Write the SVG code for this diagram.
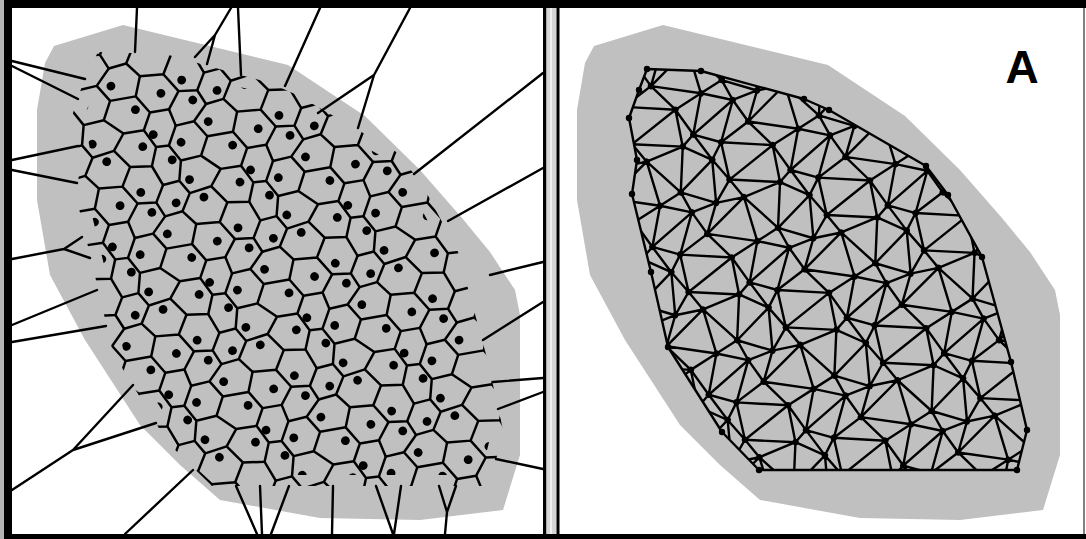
<svg xmlns="http://www.w3.org/2000/svg" width="1086" height="539" viewBox="0 0 1086 539">
<style>
.gray{fill:#c0c0c0}
.ln{fill:none;stroke:#000;stroke-linejoin:round;stroke-linecap:round}
.dot{fill:none;stroke:#000;stroke-linecap:round}
.blk{fill:#000}
.lbl{font-family:"Liberation Sans",Arial,sans-serif;font-weight:bold;font-size:46px;fill:#000}
</style>
<defs>
<path id="vt" d="M17,-6.7L12.3,11L-1.3,20L-11.7,8.7M44.7,-9.7L47.3,8L27.7,19.3L12.3,11M80.7,-9L78.3,8.7L63.7,17L47.3,8M27.7,19.3L28.3,37L13.3,47L-1,38.3M63.7,17L64,33.3L48.3,42L28.3,37M88.7,20L89,38.3L79,43.3L64,33.3M13.3,47L18,64L6,72.3L-8.7,60.3M48.3,42L45.7,59L30.3,71L18,64M79,43.3L81.3,60.3L63.7,67.3L45.7,59M30.3,71L29.7,88L17,97.3L5.7,88.7M63.7,67.3L63.3,85.7L44.7,94.3L29.7,88M96,72.3L95.7,88.7L80.7,95L63.3,85.7"/>
<path id="dt" d="M5,-6L24,7M5,-6L8,32M5,-6L-17,34M24,7L67,-2M24,7L51,19M24,7L8,32M67,-2L95,-6M67,-2L73,34M67,-2L51,19M8,32L51,19M8,32L26,60M8,32L6,49M51,19L73,34M51,19L68,47M51,19L26,60M73,34L98,32M73,34L96,49M73,34L68,47M6,49L26,60M6,49L22,83M6,49L-10,85M26,60L68,47M26,60L43,70M26,60L22,83M68,47L96,49M68,47L80,85M68,47L43,70M22,83L43,70M22,83L24,111M22,83L5,98M43,70L80,85M43,70L67,102M43,70L24,111M80,85L112,83M80,85L95,98M80,85L67,102"/>
<path id="pt" d="M5,-6h.01M24,7h.01M67,-2h.01M8,32h.01M51,19h.01M73,34h.01M6,49h.01M26,60h.01M68,47h.01M22,83h.01M43,70h.01M80,85h.01"/>
<g id="vrow"><use href="#vt" x="-35"/><use href="#vt" x="55"/><use href="#vt" x="145"/><use href="#vt" x="235"/><use href="#vt" x="325"/><use href="#vt" x="415"/><use href="#vt" x="505"/></g>
<g id="vblk"><use href="#vrow" y="-64"/><use href="#vrow" y="40"/><use href="#vrow" y="144"/><use href="#vrow" y="248"/><use href="#vrow" y="352"/><use href="#vrow" y="456"/></g>
<g id="drow"><use href="#dt" x="-35"/><use href="#dt" x="55"/><use href="#dt" x="145"/><use href="#dt" x="235"/><use href="#dt" x="325"/><use href="#dt" x="415"/><use href="#dt" x="505"/></g>
<g id="dblk"><use href="#drow" y="-64"/><use href="#drow" y="40"/><use href="#drow" y="144"/><use href="#drow" y="248"/><use href="#drow" y="352"/><use href="#drow" y="456"/></g>
<g id="prow"><use href="#pt" x="-35"/><use href="#pt" x="55"/><use href="#pt" x="145"/><use href="#pt" x="235"/><use href="#pt" x="325"/><use href="#pt" x="415"/><use href="#pt" x="505"/></g>
<g id="pblk"><use href="#prow" y="-64"/><use href="#prow" y="40"/><use href="#prow" y="144"/><use href="#prow" y="248"/><use href="#prow" y="352"/><use href="#prow" y="456"/></g>
<polygon id="shape" points="54,46 123,25 288,65 365,116 420,170 462,218 490,252 515,290 520,315 520,455 503,510 420,520 320,518 220,500 180,465 140,425 85,340 50,275 37,200 37,110 45,63"/>
<clipPath id="cV"><polygon points="98,52 165,54 270,83 297,95 398,153 423,186 458,252 487,358 503,430 490,486 212,486 168,443 113,353 95,276 76,196 81,160 72,116 84,80"/></clipPath>
<clipPath id="cD"><polygon points="104,64 162,66 266,94 291,105 390,161 412,192 447,256 476,361 492,430 481,475 217,475 178,435 123,349 106,273 87,195 92,160 84,118 95,87"/></clipPath>
<clipPath id="cH"><polygon points="647,69 701,71 804,99 829,110 926,166 948,195 982,257 1011,362 1027,430 1017,470 759,470 722,432 668,347 651,272 632,194 637,160 629,118 639,90"/></clipPath>
</defs>

<rect x="0" y="0" width="1086" height="539" fill="#fff"/>

<g id="left-panel">
  <use href="#shape" class="gray"/>
  <g id="voronoi-cells" clip-path="url(#cV)">
    <g transform="translate(290,270) rotate(20) scale(1.15) translate(-280,-248)"><use href="#vblk" class="ln" stroke-width="2.15"/></g>
  </g>
  <g id="voronoi-rays" class="ln" stroke-width="2.4">
    <path d="M135,52L137,8M215,35L231,8M215,35L207,64M215,35L195,57M241,75L238,8M285,86L320,8M374,75L410,8M374,75L358,128M374,75L318,113"/>
    <path d="M414,174L543,73M448,221L543,168M490,275L543,262M483,340L543,302M493,382L543,378M498,409L543,392M496,459L543,469"/>
    <path d="M85,79L12,61M78,99L12,66M78,146L12,160M77,183L12,170M64,249L12,259M64,249L82,237M64,249L90,258M97,290L12,325M106,326L12,342M73,450L12,490M73,450L156,423M73,450L133,385"/>
    <path d="M193,470L125,534M236,486L257,534M260,486L262,534M289,486L271,534M333,486L332,534M376,486L393,534M401,486L394,534M447,512L445,534M447,512L439,486M447,512L456,486"/>
  </g>
  <g id="sites" clip-path="url(#cD)">
    <g transform="translate(290,270) rotate(20) scale(1.15) translate(-280,-248)"><use href="#pblk" class="dot" stroke-width="7.6"/></g>
  </g>
</g>

<g id="right-panel">
  <use href="#shape" class="gray" transform="translate(540,0)"/>
  <g id="triangulation" clip-path="url(#cH)">
    <g transform="translate(830,270) rotate(20) scale(1.15) translate(-280,-248)"><use href="#dblk" class="ln" stroke-width="2.1"/></g>
  </g>
  <polygon id="hull" class="ln" stroke-width="2.4" points="647,69 701,71 804,99 829,110 926,166 948,195 982,257 1011,362 1027,430 1017,470 759,470 722,432 668,347 651,272 632,194 637,160 629,118 639,90"/>
  <g id="nodes" clip-path="url(#cH)">
    <g transform="translate(830,270) rotate(20) scale(1.15) translate(-280,-248)"><use href="#pblk" class="dot" stroke-width="5.6"/></g>
  </g>
  <path id="hull-nodes" class="dot" stroke-width="6.4" d="M647,69h.01M701,71h.01M804,99h.01M829,110h.01M926,166h.01M948,195h.01M982,257h.01M1011,362h.01M1027,430h.01M1017,470h.01M759,470h.01M722,432h.01M668,347h.01M651,272h.01M632,194h.01M637,160h.01M629,118h.01M639,90h.01"/>
  <text id="label-A" class="lbl" x="1022" y="83" text-anchor="middle">A</text>
</g>

<g id="frame">
  <rect x="0" y="0" width="4" height="539" fill="#b4b4b4"/>
  <rect class="blk" x="4" y="0" width="8" height="539"/>
  <rect class="blk" x="4" y="0" width="1082" height="8"/>
  <rect class="blk" x="4" y="534" width="1082" height="5"/>
  <rect class="blk" x="543" y="8" width="3.5" height="526"/>
  <rect x="546.5" y="8" width="10" height="526" fill="#d6d6d6"/>
  <rect x="550" y="8" width="2" height="526" fill="#f2f2f2"/>
  <rect class="blk" x="556.5" y="8" width="3" height="526"/>
  <rect x="1083" y="8" width="2" height="526" fill="#808080"/>
</g>
</svg>
